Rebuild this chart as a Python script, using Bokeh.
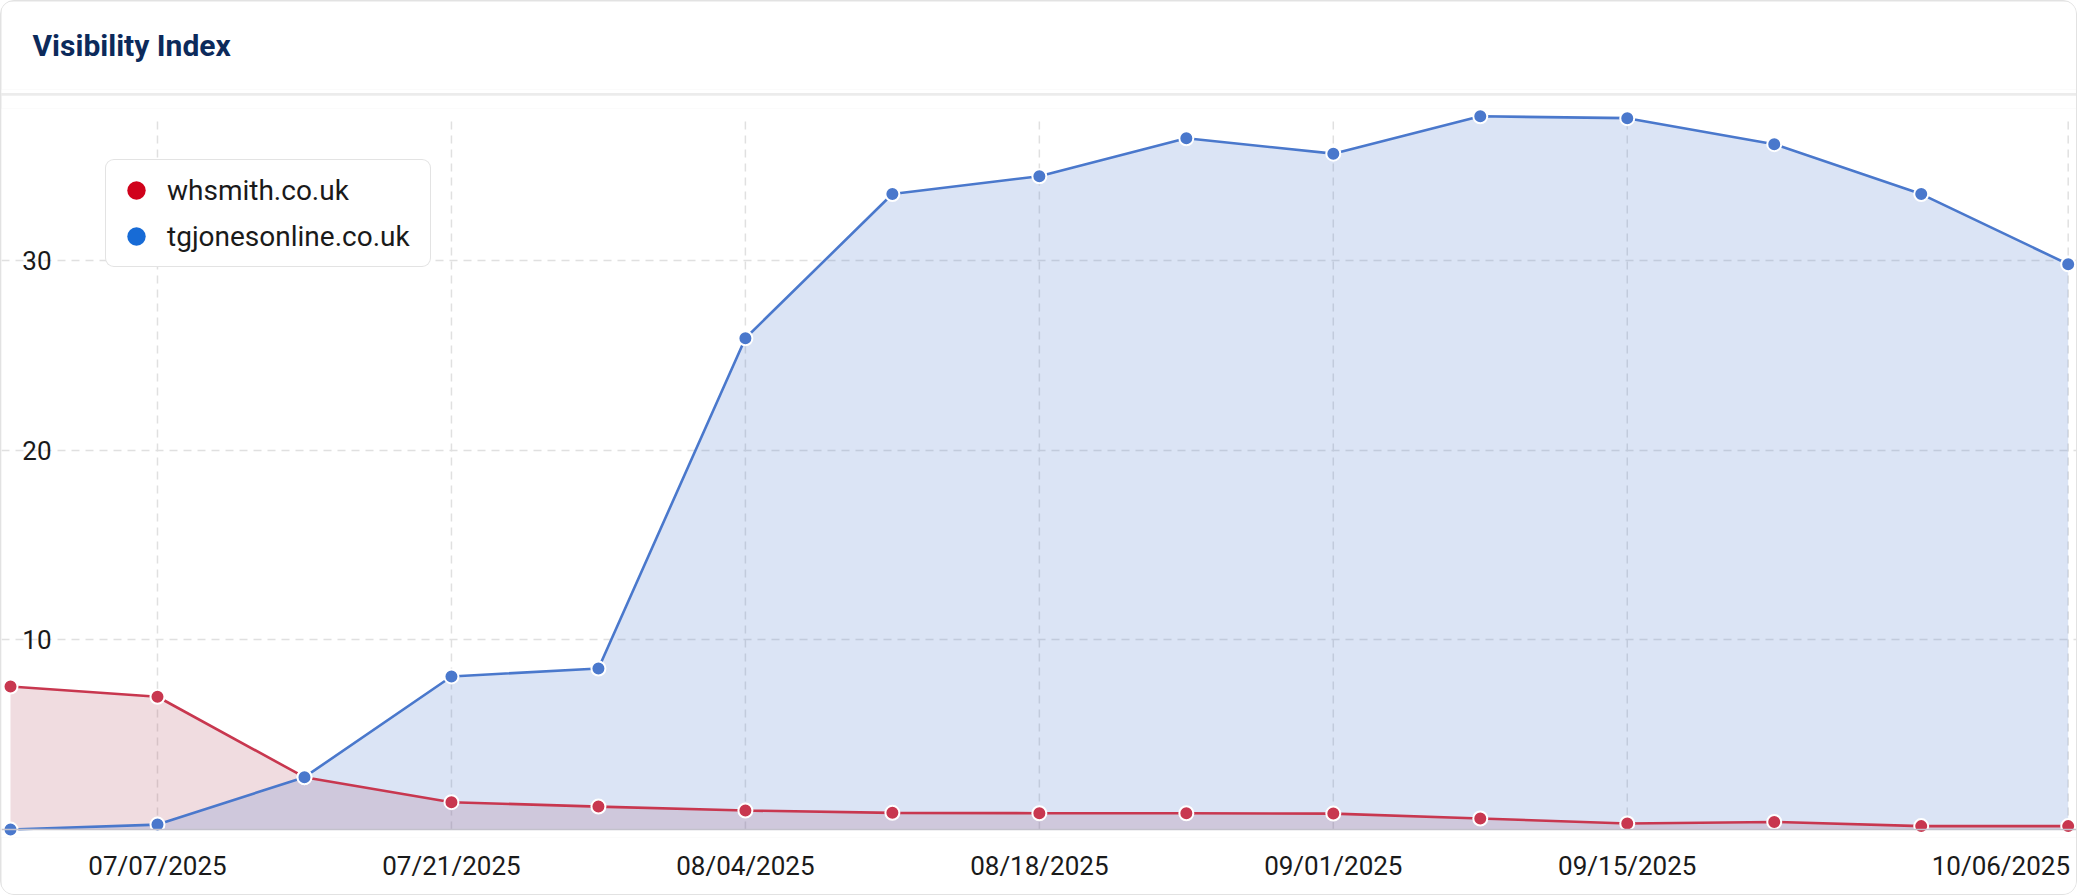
import pandas as pd
from bokeh.plotting import figure
from bokeh.core.properties import value
from bokeh.models import (ColumnDataSource, Range1d, FixedTicker, DatetimeTickFormatter,
                          Legend, LegendItem, LabelSet, Span)
from bokeh.layouts import column
from bokeh.embed import file_html
from bokeh.resources import INLINE

# ---------------- data ----------------
dates = ["2025-06-30", "2025-07-07", "2025-07-14", "2025-07-21", "2025-07-28",
         "2025-08-04", "2025-08-11", "2025-08-18", "2025-08-25", "2025-09-01",
         "2025-09-08", "2025-09-15", "2025-09-22", "2025-09-29", "2025-10-06"]
whsmith = [7.54, 7.0, 2.76, 1.44, 1.21, 1.0, 0.88, 0.86, 0.86, 0.84,
           0.58, 0.32, 0.40, 0.18, 0.18]
tgjones = [0.0, 0.26, 2.76, 8.07, 8.49, 25.9, 33.5, 34.44, 36.44, 35.63,
           37.6, 37.5, 36.13, 33.5, 29.8]
series_names = ["whsmith.co.uk", "tgjonesonline.co.uk"]
x_tick_dates = ["2025-07-07", "2025-07-21", "2025-08-04", "2025-08-18",
                "2025-09-01", "2025-09-15", "2025-10-06"]
y_ticks = [10, 20, 30]
y_tick_labels = ["10", "20", "30"]
title_text = "Visibility Index"

# ---------------- styles ----------------
RED_LINE = "#c8374f"
RED_FILL = "#b45064"
BLUE_LINE = "#4a78cc"
RED_LEG = "#d0021b"
BLUE_LEG = "#176bd6"
GRID = "#e0e0e0"
FONT = "Roboto"
W = 2075

x = pd.to_datetime(dates)
xt = pd.to_datetime(x_tick_dates)
tick_ms = [float(t.value // 10**6) for t in xt]

src = ColumnDataSource(dict(x=x, whsmith=whsmith, tgjones=tgjones))

# ---------------- header ----------------
head = figure(width=W, height=92, output_backend="svg", toolbar_location=None,
              x_axis_location=None, y_axis_location=None,
              min_border_left=0, min_border_right=0, min_border_top=0, min_border_bottom=0)
head.grid.visible = False
head.outline_line_color = None
head.title.text = title_text
head.title.text_font = FONT
head.title.text_font_size = "30px"
head.title.text_font_style = "bold"
head.title.text_color = "#0c2a5b"
head.title.align = "left"
head.title.offset = 31
head.title.standoff = 51
head.title.vertical_align = "middle"
head.border_fill_color = "white"

# ---------------- main chart ----------------
p = figure(width=W, height=799, x_axis_type="datetime", output_backend="svg",
           toolbar_location=None,
           x_range=Range1d(x[0] - pd.Timedelta(hours=10.3), x[-1] + pd.Timedelta(hours=9.5)),
           y_range=Range1d(-0.42, 38.01),
           min_border_left=0, min_border_right=0, min_border_top=13, min_border_bottom=57)
p.outline_line_color = None
p.border_fill_color = "white"
p.background_fill_color = "white"

# horizontal grid
p.ygrid.ticker = FixedTicker(ticks=y_ticks)
p.ygrid.grid_line_color = GRID
p.ygrid.grid_line_dash = "8 6"
p.ygrid.grid_line_width = 1.5
p.xgrid.visible = False
p.yaxis.visible = False

# vertical grid lines from 0 to the top of the data
vg = ColumnDataSource(dict(x=xt, y0=[0] * len(xt), y1=[max(tgjones)] * len(xt)))
p.segment(x0="x", y0="y0", x1="x", y1="y1", source=vg, line_color=GRID,
          line_width=1.5, line_dash="8 6")

# x axis
last = x_tick_dates[-1]
p.xaxis.ticker = FixedTicker(ticks=tick_ms)
p.xaxis.formatter = DatetimeTickFormatter(days="%m/%d/%Y", months="%m/%d/%Y")
p.xaxis.major_label_overrides = {tick_ms[-1]: last[5:7] + "/" + last[8:10] + "/" + last[0:4]
                                 + "\u00a0"}
p.xaxis.axis_line_color = None
p.xaxis.major_tick_line_color = None
p.xaxis.minor_tick_line_color = None
p.xaxis.major_tick_out = 0
p.xaxis.major_tick_in = 0
p.xaxis.major_label_standoff = 13
p.xaxis.major_label_text_font = FONT
p.xaxis.major_label_text_font_size = "26px"
p.xaxis.major_label_text_color = "#1a1a1a"

# areas
p.varea(x="x", y1=0, y2="whsmith", source=src, fill_color=RED_FILL, fill_alpha=0.2)
p.varea(x="x", y1=0, y2="tgjones", source=src, fill_color=BLUE_LINE, fill_alpha=0.2)

# baseline
p.add_layout(Span(location=0, dimension="width", line_color="#c3c1cc", line_width=1.4))

# lines and markers
p.line("x", "whsmith", source=src, line_color=RED_LINE, line_width=2.6)
p.line("x", "tgjones", source=src, line_color=BLUE_LINE, line_width=2.6)
p.scatter("x", "whsmith", source=src, size=14, fill_color=RED_LINE, line_color="white", line_width=2)
p.scatter("x", "tgjones", source=src, size=14, fill_color=BLUE_LINE, line_color="white", line_width=2)

# y tick labels drawn inside the plot area
ylab = ColumnDataSource(dict(x=[x[0]] * len(y_ticks), y=y_ticks, t=y_tick_labels))
p.add_layout(LabelSet(x="x", y="y", text="t", source=ylab, x_offset=41,
                      text_align="right", text_baseline="middle",
                      text_font=value(FONT), text_font_size=value("26px"),
                      text_color="#1a1a1a"))

# legend: zero-size renderers on the real data carry the legend colours
r_leg = p.scatter("x", "whsmith", source=src, size=0, fill_color=RED_LEG, line_color=None)
b_leg = p.scatter("x", "tgjones", source=src, size=0, fill_color=BLUE_LEG, line_color=None)
legend = Legend(items=[LegendItem(label=series_names[0], renderers=[r_leg]),
                       LegendItem(label=series_names[1], renderers=[b_leg])],
                location=(104, 570), orientation="vertical",
                glyph_width=46, glyph_height=46, spacing=0, padding=7,
                label_standoff=8, label_width=256, margin=0,
                label_text_font=FONT, label_text_font_size="28px",
                label_text_color="#1a1a1a", label_text_baseline="middle",
                border_line_color="#c8c8c8", border_line_width=1.5,
                background_fill_color="white", background_fill_alpha=1.0)
if "border_radius" in Legend.properties():
    legend.border_radius = 9
p.add_layout(legend)

layout = column(head, p, spacing=2,
                styles={"background-color": "#ececec", "border": "1px solid #e2e2e2",
                        "border-radius": "14px", "overflow": "hidden"})

open("out.html", "w").write(file_html(layout, INLINE))
